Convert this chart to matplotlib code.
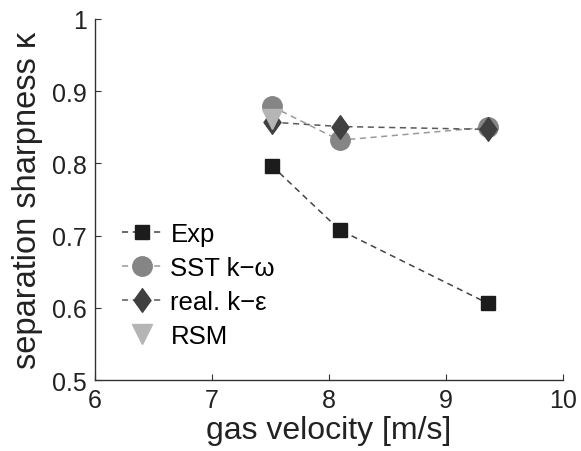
import matplotlib.pyplot as plt
from matplotlib.path import Path

# separation sharpness vs gas velocity
vel_exp = [7.51, 8.09, 9.36]
kappa_exp = [0.797, 0.708, 0.606]

vel_sst = [7.51, 8.09, 9.36]
kappa_sst = [0.879, 0.832, 0.850]

vel_rke = [7.51, 8.09, 9.36]
kappa_rke = [0.857, 0.851, 0.847]

vel_rsm = [7.51]
kappa_rsm = [0.861]

labels = ['Exp', 'SST k\u2212\u03c9', 'real. k\u2212\u03b5', 'RSM']
xticks = [6, 7, 8, 9, 10]
yticks = [0.5, 0.6, 0.7, 0.8, 0.9, 1.0]

plt.rcParams['font.family'] = ['Liberation Sans', 'DejaVu Sans']

fig = plt.figure(figsize=(5.81, 4.52), dpi=100)
ax = fig.add_axes([0.1635, 0.157, 0.8055, 0.799])

# slightly narrow diamond, like the matlab one
diamond = Path([(0, 1), (0.72, 0), (0, -1), (-0.72, 0), (0, 1)],
               [Path.MOVETO, Path.LINETO, Path.LINETO, Path.LINETO, Path.CLOSEPOLY])

dash = (0, (4, 3))
ax.plot(vel_exp, kappa_exp, linestyle=dash, color='#444444', lw=1.1,
        marker='s', ms=10, mfc='#1c1c1c', mec='#1c1c1c', label=labels[0])
ax.plot(vel_sst, kappa_sst, linestyle=dash, color='#9a9a9a', lw=1.1,
        marker='o', ms=14, mfc='#858585', mec='#858585', label=labels[1])
ax.plot(vel_rke, kappa_rke, linestyle=dash, color='#5a5a5a', lw=1.1,
        marker=diamond, ms=17, mfc='#404040', mec='#404040', label=labels[2])
ax.plot(vel_rsm, kappa_rsm, linestyle='none',
        marker='v', ms=14, mfc='#b5b5b5', mec='#b5b5b5', label=labels[3])

ax.set_xlim(6, 10)
ax.set_ylim(0.5, 1.0)
ax.set_xticks(xticks)
ax.set_yticks(yticks)
ax.set_xticklabels([f'{t:g}' for t in xticks])
ax.set_yticklabels([f'{t:g}' for t in yticks])

for side in ['top', 'right']:
    ax.spines[side].set_visible(False)
for side in ['left', 'bottom']:
    ax.spines[side].set_color('#333333')
    ax.spines[side].set_linewidth(1.0)
ax.tick_params(direction='in', length=4, width=0.8, color='#333333',
               labelsize=18, labelcolor='#222222', pad=6)

ax.set_xlabel('gas velocity [m/s]', fontsize=23, color='#222222', labelpad=2)
ax.set_ylabel('separation sharpness \u03ba', fontsize=23.5, color='#222222', labelpad=6)

ax.legend(loc='upper left', bbox_to_anchor=(0.035, 0.467), frameon=False,
          fontsize=18.5, handlelength=1.6, handletextpad=0.3,
          labelspacing=0.4, borderaxespad=0, markerscale=1.0)

fig.savefig('out.png', dpi=100)
